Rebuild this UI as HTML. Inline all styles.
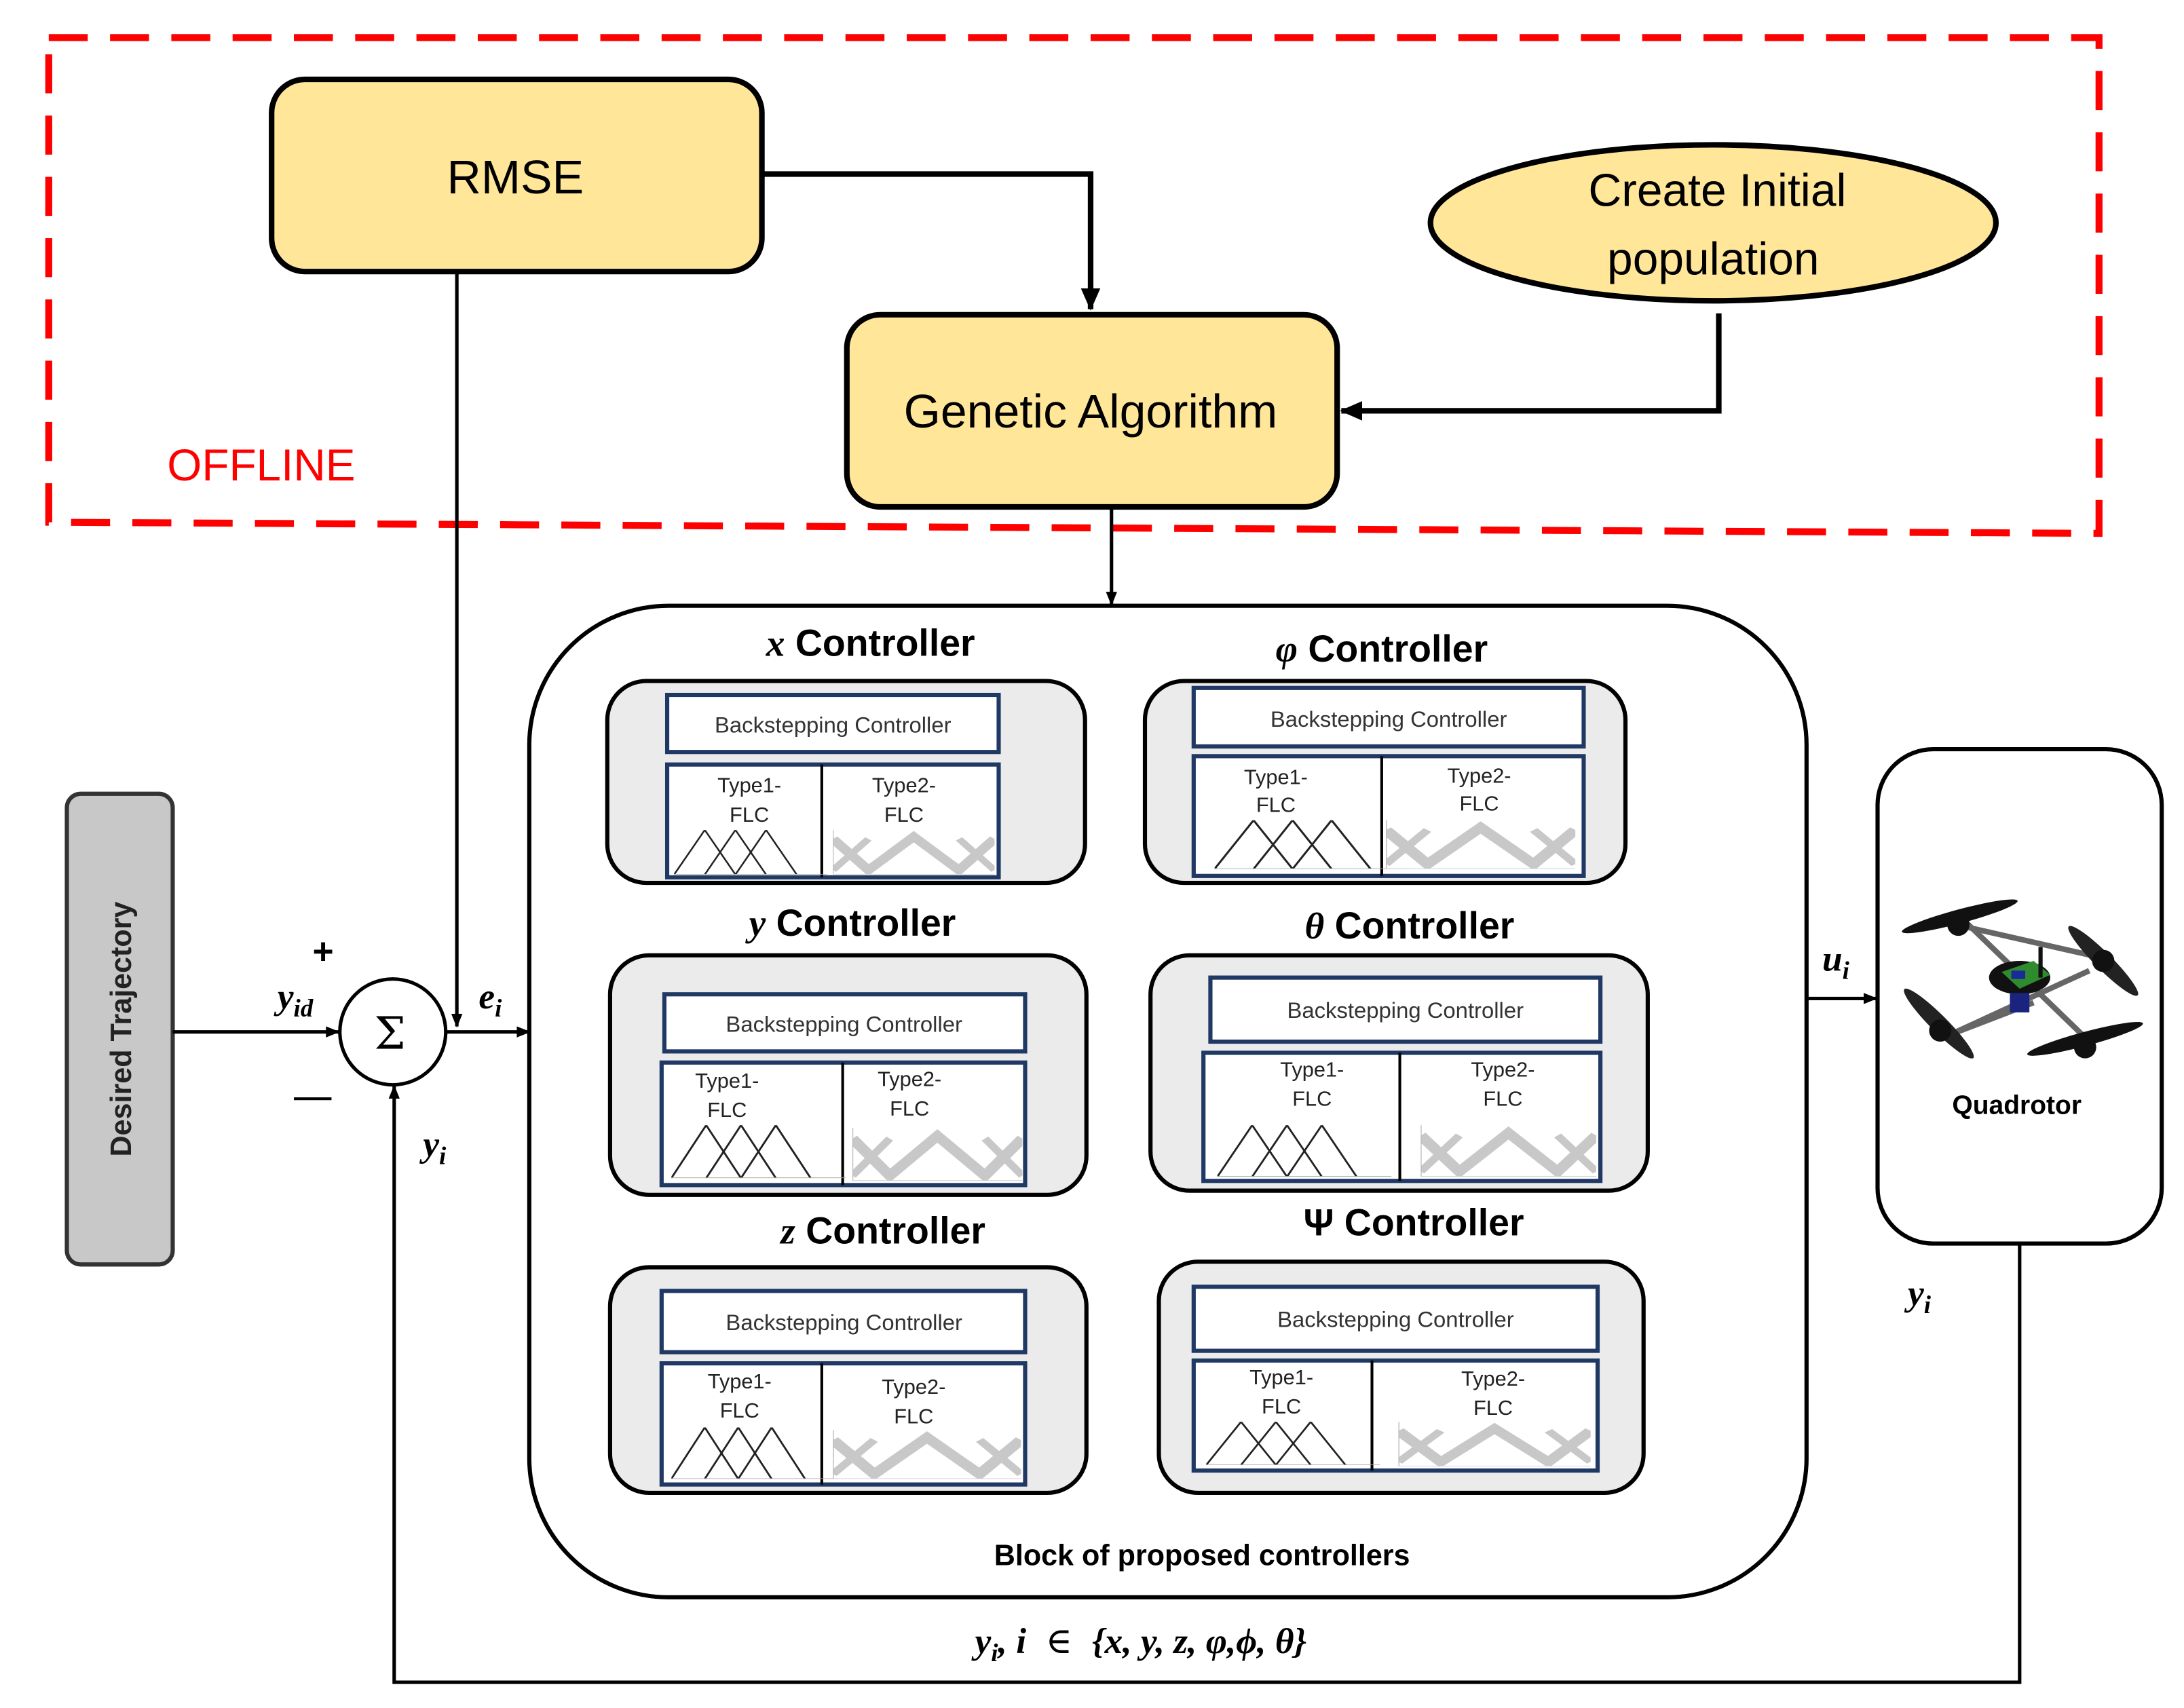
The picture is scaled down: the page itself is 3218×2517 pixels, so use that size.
<!DOCTYPE html>
<html><head><meta charset="utf-8"><style>
html,body{margin:0;padding:0;background:#fff}
svg{display:block}
.s{font-family:"Liberation Sans","DejaVu Sans",sans-serif}
.m{font-family:"Liberation Serif","DejaVu Serif",serif;font-style:italic;font-weight:bold}
</style></head><body>
<svg width="3218" height="2517" viewBox="0 0 1568 1226.5" preserveAspectRatio="none" xmlns="http://www.w3.org/2000/svg">
<defs>
<marker id="ar" markerWidth="10" markerHeight="10" refX="9" refY="5" orient="auto" markerUnits="userSpaceOnUse"><path d="M0,1 L10,5 L0,9 Z" fill="#000"/></marker>
<marker id="ar2" markerWidth="16" markerHeight="16" refX="15" refY="8" orient="auto" markerUnits="userSpaceOnUse"><path d="M0,1 L16,8 L0,15 Z" fill="#000"/></marker>
<symbol id="tri" viewBox="0 0 100 40" preserveAspectRatio="none"><polyline points="0,40 20,0 40,40" fill="none" stroke="#222" stroke-width="1.2"/><polyline points="20,40 40,0 60,40" fill="none" stroke="#222" stroke-width="1.2"/><polyline points="40,40 60,0 80,40" fill="none" stroke="#222" stroke-width="1.2"/><line x1="0" y1="40" x2="100" y2="40" stroke="#aaa" stroke-width="1"/></symbol>
<symbol id="t2" viewBox="0 0 100 40" preserveAspectRatio="none"><polyline points="0,8 22,36 50,6 78,36 100,8" fill="none" stroke="#c8c8c8" stroke-width="7"/><polyline points="0,36 22,8" fill="none" stroke="#c8c8c8" stroke-width="5"/><polyline points="78,8 100,36" fill="none" stroke="#c8c8c8" stroke-width="5"/><line x1="0" y1="0" x2="0" y2="40" stroke="#bbb" stroke-width="1"/><line x1="0" y1="40" x2="100" y2="40" stroke="#ccc" stroke-width="1"/></symbol>
</defs>

<path d="M35,27 L1507,27 L1507,383 L35,375 Z" fill="none" stroke="#f00" stroke-width="5" stroke-dasharray="28,16"/>
<text x="120" y="345" class="s" font-size="32" fill="#f00">OFFLINE</text>

<rect x="195" y="57" width="352" height="138" rx="24" fill="#FFE699" stroke="#000" stroke-width="4"/>
<text x="370" y="139" class="s" font-size="34" text-anchor="middle">RMSE</text>

<ellipse cx="1230" cy="160" rx="203" ry="56" fill="#FFE699" stroke="#000" stroke-width="4"/>
<text x="1233" y="148" class="s" font-size="33" text-anchor="middle">Create Initial</text>
<text x="1230" y="197" class="s" font-size="33" text-anchor="middle">population</text>

<rect x="608" y="226" width="352" height="138" rx="24" fill="#FFE699" stroke="#000" stroke-width="4"/>
<text x="783" y="307" class="s" font-size="34" text-anchor="middle">Genetic Algorithm</text>

<polyline points="547,125 783,125 783,222" fill="none" stroke="#000" stroke-width="4" marker-end="url(#ar2)"/>
<polyline points="1234,225 1234,295 963,295" fill="none" stroke="#000" stroke-width="4" marker-end="url(#ar2)"/>
<line x1="798" y1="365" x2="798" y2="434" stroke="#000" stroke-width="2.5" marker-end="url(#ar)"/>
<line x1="328" y1="195" x2="328" y2="737" stroke="#000" stroke-width="2.5" marker-end="url(#ar)"/>

<rect x="48" y="570" width="76" height="338" rx="10" fill="#C8C8C8" stroke="#333" stroke-width="3"/>
<text transform="translate(94,739) rotate(-90)" class="s" font-size="21" font-weight="bold" text-anchor="middle" fill="#222">Desired Trajectory</text>
<line x1="124" y1="741" x2="243" y2="741" stroke="#000" stroke-width="2.5" marker-end="url(#ar)"/>

<circle cx="282" cy="741" r="38" fill="#fff" stroke="#000" stroke-width="2.5"/>
<text x="280" y="753" font-family="DejaVu Serif,serif" font-size="32" text-anchor="middle">Σ</text>
<text x="232" y="692" class="s" font-size="26" font-weight="bold" text-anchor="middle">+</text>
<text x="212" y="724" class="m" font-size="26" text-anchor="middle">y<tspan font-size="18" dy="6">id</tspan></text>
<line x1="211" y1="789" x2="238" y2="789" stroke="#000" stroke-width="2"/>
<text x="312" y="830" class="m" font-size="26" text-anchor="middle">y<tspan font-size="18" dy="6">i</tspan></text>
<line x1="320" y1="741" x2="380" y2="741" stroke="#000" stroke-width="2.5" marker-end="url(#ar)"/>
<text x="352" y="724" class="m" font-size="26" text-anchor="middle">e<tspan font-size="18" dy="6">i</tspan></text>

<rect x="380" y="435" width="917" height="712" rx="100" fill="#fff" stroke="#000" stroke-width="3"/>
<text x="863" y="1124" class="s" font-size="21" font-weight="bold" text-anchor="middle">Block of proposed  controllers</text>

<!-- x controller -->
<text x="625" y="471" class="s" font-size="27" font-weight="bold" text-anchor="middle"><tspan class="m">x</tspan> Controller</text>
<rect x="436" y="489" width="343" height="145" rx="28" fill="#EBEBEB" stroke="#000" stroke-width="3"/>
<rect x="479" y="499" width="238" height="41" fill="#fff" stroke="#1F3864" stroke-width="3"/>
<text x="598" y="526" class="s" font-size="16" fill="#333" text-anchor="middle">Backstepping Controller</text>
<rect x="479" y="549" width="238" height="81" fill="#fff" stroke="#1F3864" stroke-width="3"/>
<line x1="590" y1="549" x2="590" y2="630" stroke="#000" stroke-width="2"/>
<text x="538" y="569" class="s" font-size="15" fill="#222" text-anchor="middle">Type1-</text><text x="538" y="590" class="s" font-size="15" fill="#222" text-anchor="middle">FLC</text>
<text x="649" y="569" class="s" font-size="15" fill="#222" text-anchor="middle">Type2-</text><text x="649" y="590" class="s" font-size="15" fill="#222" text-anchor="middle">FLC</text>
<use href="#tri" x="484" y="596" width="110" height="32"/>
<use href="#t2" x="598" y="596" width="116" height="32"/>

<!-- phi controller -->
<text x="992" y="475" class="s" font-size="27" font-weight="bold" text-anchor="middle"><tspan class="m">φ</tspan> Controller</text>
<rect x="822" y="489" width="345" height="145" rx="28" fill="#EBEBEB" stroke="#000" stroke-width="3"/>
<rect x="857" y="494" width="280" height="42" fill="#fff" stroke="#1F3864" stroke-width="3"/>
<text x="997" y="522" class="s" font-size="16" fill="#333" text-anchor="middle">Backstepping Controller</text>
<rect x="857" y="543" width="280" height="86" fill="#fff" stroke="#1F3864" stroke-width="3"/>
<line x1="992" y1="543" x2="992" y2="629" stroke="#000" stroke-width="2"/>
<text x="916" y="563" class="s" font-size="15" fill="#222" text-anchor="middle">Type1-</text><text x="916" y="583" class="s" font-size="15" fill="#222" text-anchor="middle">FLC</text>
<text x="1062" y="562" class="s" font-size="15" fill="#222" text-anchor="middle">Type2-</text><text x="1062" y="582" class="s" font-size="15" fill="#222" text-anchor="middle">FLC</text>
<use href="#tri" x="872" y="589" width="140" height="35"/>
<use href="#t2" x="995" y="589" width="136" height="35"/>

<!-- y controller -->
<text x="612" y="672" class="s" font-size="27" font-weight="bold" text-anchor="middle"><tspan class="m">y</tspan> Controller</text>
<rect x="438" y="686" width="342" height="172" rx="28" fill="#EBEBEB" stroke="#000" stroke-width="3"/>
<rect x="477" y="714" width="259" height="41" fill="#fff" stroke="#1F3864" stroke-width="3"/>
<text x="606" y="741" class="s" font-size="16" fill="#333" text-anchor="middle">Backstepping Controller</text>
<rect x="475" y="763" width="261" height="88" fill="#fff" stroke="#1F3864" stroke-width="3"/>
<line x1="605" y1="763" x2="605" y2="851" stroke="#000" stroke-width="2"/>
<text x="522" y="781" class="s" font-size="15" fill="#222" text-anchor="middle">Type1-</text><text x="522" y="802" class="s" font-size="15" fill="#222" text-anchor="middle">FLC</text>
<text x="653" y="780" class="s" font-size="15" fill="#222" text-anchor="middle">Type2-</text><text x="653" y="801" class="s" font-size="15" fill="#222" text-anchor="middle">FLC</text>
<use href="#tri" x="482" y="808" width="125" height="38"/>
<use href="#t2" x="612" y="810" width="122" height="38"/>

<!-- theta controller -->
<text x="1012" y="674" class="s" font-size="27" font-weight="bold" text-anchor="middle"><tspan class="m">θ</tspan> Controller</text>
<rect x="826" y="686" width="357" height="169" rx="28" fill="#EBEBEB" stroke="#000" stroke-width="3"/>
<rect x="869" y="702" width="280" height="46" fill="#fff" stroke="#1F3864" stroke-width="3"/>
<text x="1009" y="731" class="s" font-size="16" fill="#333" text-anchor="middle">Backstepping Controller</text>
<rect x="864" y="756" width="285" height="92" fill="#fff" stroke="#1F3864" stroke-width="3"/>
<line x1="1005" y1="756" x2="1005" y2="848" stroke="#000" stroke-width="2"/>
<text x="942" y="773" class="s" font-size="15" fill="#222" text-anchor="middle">Type1-</text><text x="942" y="794" class="s" font-size="15" fill="#222" text-anchor="middle">FLC</text>
<text x="1079" y="773" class="s" font-size="15" fill="#222" text-anchor="middle">Type2-</text><text x="1079" y="794" class="s" font-size="15" fill="#222" text-anchor="middle">FLC</text>
<use href="#tri" x="874" y="808" width="125" height="37"/>
<use href="#t2" x="1020" y="808" width="126" height="37"/>

<!-- z controller -->
<text x="634" y="893" class="s" font-size="27" font-weight="bold" text-anchor="middle"><tspan class="m">z</tspan> Controller</text>
<rect x="438" y="910" width="342" height="162" rx="28" fill="#EBEBEB" stroke="#000" stroke-width="3"/>
<rect x="475" y="927" width="261" height="44" fill="#fff" stroke="#1F3864" stroke-width="3"/>
<text x="606" y="955" class="s" font-size="16" fill="#333" text-anchor="middle">Backstepping Controller</text>
<rect x="475" y="979" width="261" height="87" fill="#fff" stroke="#1F3864" stroke-width="3"/>
<line x1="590" y1="979" x2="590" y2="1066" stroke="#000" stroke-width="2"/>
<text x="531" y="997" class="s" font-size="15" fill="#222" text-anchor="middle">Type1-</text><text x="531" y="1018" class="s" font-size="15" fill="#222" text-anchor="middle">FLC</text>
<text x="656" y="1001" class="s" font-size="15" fill="#222" text-anchor="middle">Type2-</text><text x="656" y="1022" class="s" font-size="15" fill="#222" text-anchor="middle">FLC</text>
<use href="#tri" x="482" y="1025" width="120" height="37"/>
<use href="#t2" x="598" y="1027" width="135" height="35"/>

<!-- psi controller -->
<text x="1015" y="887" class="s" font-size="27" font-weight="bold" text-anchor="middle">Ψ Controller</text>
<rect x="832" y="906" width="348" height="166" rx="28" fill="#EBEBEB" stroke="#000" stroke-width="3"/>
<rect x="857" y="924" width="290" height="46" fill="#fff" stroke="#1F3864" stroke-width="3"/>
<text x="1002" y="953" class="s" font-size="16" fill="#333" text-anchor="middle">Backstepping Controller</text>
<rect x="857" y="977" width="290" height="79" fill="#fff" stroke="#1F3864" stroke-width="3"/>
<line x1="985" y1="977" x2="985" y2="1056" stroke="#000" stroke-width="2"/>
<text x="920" y="994" class="s" font-size="15" fill="#222" text-anchor="middle">Type1-</text><text x="920" y="1015" class="s" font-size="15" fill="#222" text-anchor="middle">FLC</text>
<text x="1072" y="995" class="s" font-size="15" fill="#222" text-anchor="middle">Type2-</text><text x="1072" y="1016" class="s" font-size="15" fill="#222" text-anchor="middle">FLC</text>
<use href="#tri" x="866" y="1021" width="125" height="31"/>
<use href="#t2" x="1004" y="1021" width="138" height="32"/>

<line x1="1297" y1="717" x2="1347" y2="717" stroke="#000" stroke-width="2.5" marker-end="url(#ar)"/>
<text x="1318" y="697" class="m" font-size="26" text-anchor="middle">u<tspan font-size="18" dy="6">i</tspan></text>

<rect x="1348" y="538" width="204" height="355" rx="40" fill="#fff" stroke="#000" stroke-width="3"/>
<text x="1448" y="800" class="s" font-size="19" font-weight="bold" text-anchor="middle">Quadrotor</text>
<g>
<line x1="1400" y1="663" x2="1510" y2="688" stroke="#666" stroke-width="4"/>
<line x1="1400" y1="743" x2="1500" y2="697" stroke="#666" stroke-width="4"/>
<line x1="1406" y1="657" x2="1497" y2="745" stroke="#666" stroke-width="4"/>
<line x1="1400" y1="743" x2="1460" y2="720" stroke="#666" stroke-width="4"/>
<ellipse cx="1407" cy="658" rx="43" ry="5" transform="rotate(-15 1407 658)" fill="#111"/>
<ellipse cx="1510" cy="690" rx="35" ry="6" transform="rotate(45 1510 690)" fill="#222"/>
<ellipse cx="1392" cy="735" rx="35" ry="6" transform="rotate(45 1392 735)" fill="#222"/>
<ellipse cx="1497" cy="746" rx="43" ry="5" transform="rotate(-15 1497 746)" fill="#111"/>
<circle cx="1406" cy="664" r="8" fill="#111"/><circle cx="1510" cy="690" r="8" fill="#111"/>
<circle cx="1393" cy="740" r="8" fill="#111"/><circle cx="1497" cy="752" r="8" fill="#111"/>
<ellipse cx="1450" cy="702" rx="22" ry="12" fill="#111"/>
<path d="M1437,698 L1460,690 L1472,700 L1450,710 Z" fill="#2e8b2e"/>
<rect x="1444" y="697" width="10" height="6" fill="#1a2a9a"/>
<rect x="1443" y="713" width="14" height="14" fill="#1a237e"/>
<line x1="1465" y1="680" x2="1465" y2="702" stroke="#111" stroke-width="3"/>
</g>
<text x="1378" y="937" class="m" font-size="26" text-anchor="middle">y<tspan font-size="18" dy="6">i</tspan></text>

<polyline points="1450,893 1450,1208 283,1208 283,780" fill="none" stroke="#000" stroke-width="2.5" marker-end="url(#ar)"/>
<text x="700" y="1187" class="m" font-size="26">y<tspan font-size="18" dy="6">i</tspan><tspan dy="-6">, i</tspan><tspan font-style="normal" font-weight="normal" dx="14">∈</tspan><tspan dx="14">{x, y, z, φ,ϕ, θ}</tspan></text>
</svg>
</body></html>
